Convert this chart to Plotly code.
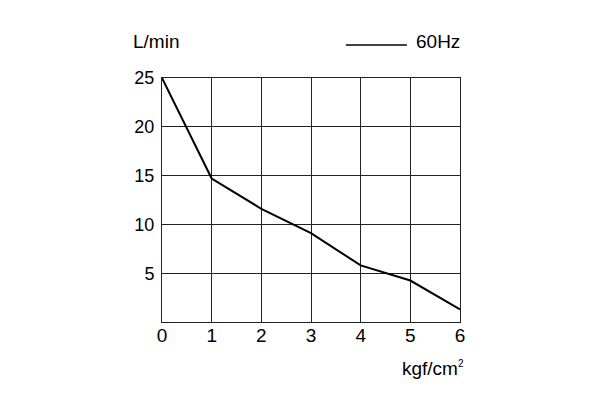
import plotly.graph_objects as go

pressure = [0, 1, 2, 3, 4, 5, 6]
flow_60hz = [25, 14.7, 11.6, 9.1, 5.8, 4.25, 1.3]

x_ticks = [0, 1, 2, 3, 4, 5, 6]
y_ticks = [5, 10, 15, 20, 25]

font = "Liberation Sans, Arial, sans-serif"

fig = go.Figure()

fig.add_trace(go.Scatter(
    x=pressure,
    y=flow_60hz,
    mode="lines",
    name="60Hz",
    line=dict(color="black", width=2),
    showlegend=False
))

# the page puts the figure 8px in from the corner, margins allow for it
fig.update_layout(
    width=600,
    height=400,
    margin=dict(l=154, r=148, t=70, b=86),
    paper_bgcolor="white",
    plot_bgcolor="white",
    font=dict(family=font, color="black", size=18),
    xaxis=dict(
        range=[0, 6],
        tickvals=x_ticks,
        showgrid=True,
        gridcolor="#222",
        gridwidth=1,
        showline=True,
        linecolor="#222",
        linewidth=1,
        mirror=True,
        zeroline=False,
        ticks="",
        tickfont=dict(size=19),
        ticklabelstandoff=-4,
    ),
    yaxis=dict(
        range=[0, 25],
        tickvals=y_ticks,
        showgrid=True,
        gridcolor="#222",
        gridwidth=1,
        showline=True,
        linecolor="#222",
        linewidth=1,
        mirror=True,
        zeroline=False,
        ticks="",
        tickfont=dict(size=18),
        ticklabelstandoff=3,
    ),
)

# axis unit labels
fig.add_annotation(text="L/min", xref="paper", yref="paper",
                   x=-0.104, y=1.15, xanchor="left", yanchor="middle",
                   showarrow=False, font=dict(size=19))
fig.add_annotation(text="kgf/cm<sup><span style='font-size:10px'>2</span></sup>",
                   xref="paper", yref="paper",
                   x=1.02, y=-0.19, xanchor="right", yanchor="middle",
                   showarrow=False, font=dict(size=19))

# legend drawn by hand so the line sample is long
fig.add_shape(type="line", xref="paper", yref="paper",
              x0=0.617, x1=0.822, y0=1.135, y1=1.135,
              line=dict(color="black", width=1.5))
fig.add_annotation(text="60Hz", xref="paper", yref="paper",
                   x=0.846, y=1.15, xanchor="left", yanchor="middle",
                   showarrow=False, font=dict(size=19))

fig.write_html("out.html")
